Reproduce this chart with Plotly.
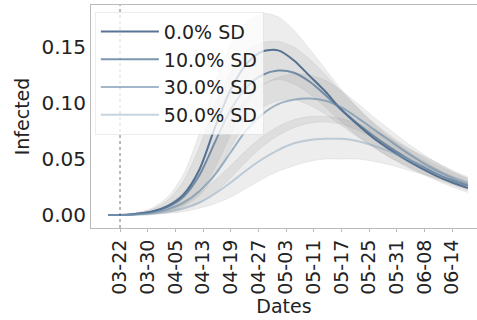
import plotly.graph_objects as go

# Days since 03-22 at which the model curves are sampled
days = [-3, 0, 4, 8, 12, 16, 20, 24, 28, 32, 36, 40, 44, 48, 52, 56, 60, 64, 68, 72, 76, 80, 84, 88]

# Tick positions (days) and their labels
tick_days = [0, 7, 14, 21, 28, 35, 42, 49, 56, 63, 70, 77, 84]
tick_labels = ["03-22", "03-30", "04-05", "04-13", "04-19", "04-27", "05-03",
               "05-11", "05-17", "05-25", "05-31", "06-08", "06-14"]

series_names = ["0.0% SD", "10.0% SD", "30.0% SD", "50.0% SD"]

# Mean infected fraction per scenario
sd0 = [0, 0, 0.001, 0.003, 0.008, 0.018, 0.040, 0.078, 0.112, 0.135, 0.146, 0.147,
       0.138, 0.124, 0.110, 0.094, 0.081, 0.069, 0.059, 0.050, 0.042, 0.035, 0.029, 0.024]
sd10 = [0, 0, 0.001, 0.003, 0.007, 0.016, 0.035, 0.065, 0.094, 0.114, 0.125, 0.129,
        0.127, 0.119, 0.107, 0.094, 0.082, 0.071, 0.061, 0.052, 0.044, 0.037, 0.031, 0.026]
sd30 = [0, 0, 0.0005, 0.002, 0.005, 0.011, 0.021, 0.036, 0.056, 0.076, 0.090, 0.099,
        0.103, 0.104, 0.102, 0.096, 0.087, 0.077, 0.067, 0.057, 0.048, 0.040, 0.033, 0.027]
sd50 = [0, 0, 0.0003, 0.001, 0.003, 0.006, 0.011, 0.019, 0.029, 0.040, 0.050, 0.058,
        0.064, 0.067, 0.068, 0.068, 0.066, 0.062, 0.057, 0.051, 0.045, 0.039, 0.034, 0.029]

# Uncertainty bands (upper / lower)
up0 = [0, 0, 0.002, 0.006, 0.016, 0.036, 0.072, 0.118, 0.152, 0.172, 0.180, 0.177,
       0.165, 0.148, 0.130, 0.112, 0.096, 0.082, 0.070, 0.059, 0.050, 0.042, 0.035, 0.029]
lo0 = [0, 0, 0.0005, 0.0015, 0.004, 0.009, 0.020, 0.042, 0.072, 0.100, 0.116, 0.121,
       0.117, 0.108, 0.096, 0.083, 0.071, 0.061, 0.052, 0.044, 0.037, 0.031, 0.025, 0.020]
up10 = [0, 0, 0.002, 0.005, 0.013, 0.030, 0.060, 0.098, 0.128, 0.146, 0.154, 0.155,
        0.150, 0.139, 0.125, 0.110, 0.096, 0.083, 0.072, 0.062, 0.053, 0.045, 0.038, 0.032]
lo10 = [0, 0, 0.0005, 0.0015, 0.003, 0.008, 0.017, 0.035, 0.060, 0.082, 0.096, 0.102,
        0.103, 0.098, 0.090, 0.080, 0.070, 0.061, 0.052, 0.045, 0.038, 0.032, 0.027, 0.022]
up30 = [0, 0, 0.001, 0.004, 0.009, 0.020, 0.038, 0.062, 0.086, 0.104, 0.116, 0.123,
        0.126, 0.125, 0.120, 0.111, 0.100, 0.088, 0.077, 0.066, 0.056, 0.047, 0.039, 0.033]
lo30 = [0, 0, 0.0002, 0.001, 0.002, 0.005, 0.010, 0.020, 0.033, 0.048, 0.061, 0.071,
        0.078, 0.082, 0.083, 0.081, 0.076, 0.069, 0.061, 0.053, 0.046, 0.039, 0.033, 0.027]
up50 = [0, 0, 0.0006, 0.002, 0.005, 0.010, 0.019, 0.031, 0.044, 0.058, 0.070, 0.079,
        0.085, 0.088, 0.088, 0.086, 0.082, 0.076, 0.069, 0.061, 0.054, 0.047, 0.040, 0.034]
lo50 = [0, 0, 0.0001, 0.0005, 0.0015, 0.003, 0.006, 0.010, 0.016, 0.024, 0.032, 0.039,
        0.044, 0.048, 0.050, 0.050, 0.050, 0.048, 0.045, 0.041, 0.037, 0.033, 0.029, 0.025]

means = [sd0, sd10, sd30, sd50]
uppers = [up0, up10, up30, up50]
lowers = [lo0, lo10, lo30, lo50]
line_colors = ["rgba(70,100,135,0.90)", "rgba(80,115,150,0.75)",
               "rgba(100,135,165,0.60)", "rgba(130,160,185,0.45)"]
band_fill = "rgba(140,140,140,0.16)"
band_edge = "rgba(140,140,140,0.22)"

fig = go.Figure()

for up, lo in zip(uppers, lowers):
    fig.add_trace(go.Scatter(x=days, y=up, mode="lines", showlegend=False,
                             line=dict(color=band_edge, width=0.6, shape="spline", smoothing=0.8),
                             hoverinfo="skip"))
    fig.add_trace(go.Scatter(x=days, y=lo, mode="lines", showlegend=False, fill="tonexty",
                             fillcolor=band_fill,
                             line=dict(color=band_edge, width=0.6, shape="spline", smoothing=0.8),
                             hoverinfo="skip"))

for name, m, c in zip(series_names, means, line_colors):
    fig.add_trace(go.Scatter(x=days, y=m, mode="lines", name=name, legendgroup=name,
                             line=dict(color=c, width=2, shape="spline", smoothing=0.8)))

# start-of-period marker
fig.add_vline(x=0, line=dict(color="rgba(80,80,80,0.8)", width=1, dash="dot"))

font_family = "DejaVu Sans"
fig.update_layout(
    width=477, height=320,
    margin=dict(l=91, r=0, t=5, b=92),
    paper_bgcolor="white", plot_bgcolor="white",
    font=dict(family=font_family, size=18, color="#222222"),
    showlegend=True,
    legend=dict(x=0.01, y=0.97, xanchor="left", yanchor="top", traceorder="normal",
                bgcolor="rgba(255,255,255,0.75)", bordercolor="rgba(225,225,225,0.6)",
                borderwidth=1, font=dict(size=19, family=font_family, color="#222222"),
                itemwidth=58, tracegroupgap=3),
    xaxis=dict(range=[-7.34, 90.3], tickmode="array", tickvals=tick_days, ticktext=tick_labels,
               tickangle=-90, showgrid=False, zeroline=False, automargin=False,
               showline=True, linecolor="#bbbbbb", linewidth=1, mirror=True,
               ticks="outside", ticklen=3, tickcolor="#bbbbbb",
               title=dict(text="Dates", font=dict(size=19), standoff=2),
               tickfont=dict(size=19)),
    yaxis=dict(range=[-0.0116, 0.1875], tickvals=[0, 0.05, 0.10, 0.15],
               ticktext=["0.00", "0.05", "0.10", "0.15"], showgrid=False, zeroline=False,
               automargin=False, showline=True, linecolor="#bbbbbb", linewidth=1, mirror=False,
               ticks="", title=dict(text="Infected", font=dict(size=19), standoff=6),
               tickfont=dict(size=20)),
)

fig.write_html("out.html")
